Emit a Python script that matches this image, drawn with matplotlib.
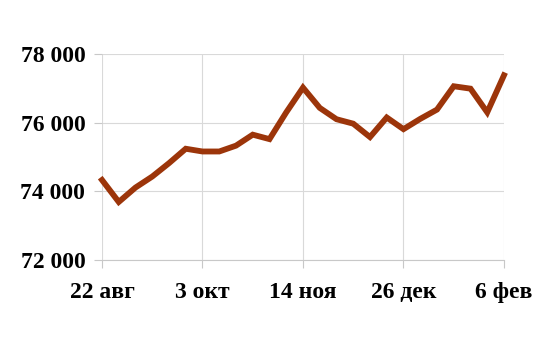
import matplotlib
matplotlib.use("Agg")
import matplotlib.pyplot as plt
from matplotlib.ticker import FuncFormatter

# weekly values, 22 aug .. 6 feb
weeks = list(range(25))
values = [74330, 73690, 74110, 74430, 74820, 75240, 75160, 75160, 75330,
          75650, 75520, 76300, 77020, 76430, 76100, 75970, 75580, 76150,
          75810, 76110, 76380, 77060, 76990, 76300, 77380]
tick_weeks = [0, 6, 12, 18, 24]
tick_labels = ["22 авг", "3 окт", "14 ноя", "26 дек", "6 фев"]
y_ticks = [72000, 74000, 76000, 78000]

fig = plt.figure(figsize=(5.58, 3.46), dpi=100)
ax = fig.add_axes([0.1828, 0.2486, 0.7204, 0.5954])

ax.plot(weeks, values, color="#9c350a", linewidth=4.2, clip_on=False,
        solid_joinstyle="miter", zorder=3)

ax.set_xlim(0, 24)
ax.set_ylim(72000, 78000)
ax.set_xticks(tick_weeks)
ax.set_xticklabels(tick_labels)
ax.set_yticks(y_ticks)
ax.yaxis.set_major_formatter(FuncFormatter(lambda v, p: f"{int(v):,}".replace(",", " ")))

ax.grid(True, color="#d9d9d9", linewidth=0.8)
for s in ax.spines.values():
    s.set_visible(False)
ax.spines["bottom"].set_visible(True)
ax.spines["bottom"].set_color("#c8c8c8")
ax.tick_params(axis="both", color="#c8c8c8", length=6, width=0.8)
ax.tick_params(axis="y", pad=6)
ax.tick_params(axis="x", pad=10)

for lab in ax.get_xticklabels() + ax.get_yticklabels():
    lab.set_fontfamily("Liberation Serif")
    lab.set_fontweight("bold")
    lab.set_fontsize(17)

fig.savefig("out.png", dpi=100)
